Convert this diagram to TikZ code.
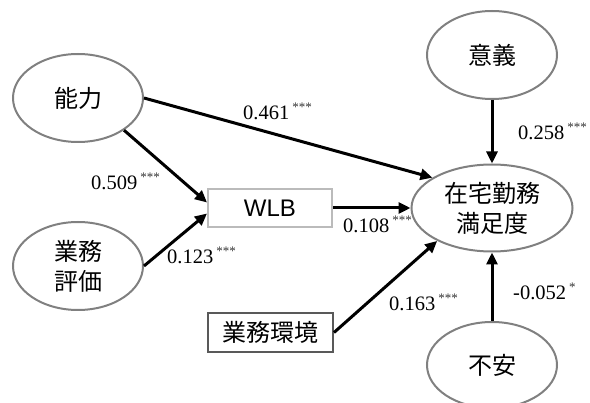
\documentclass[tikz,border=0pt]{standalone}
\usepackage{fontspec}
\setmainfont{Liberation Serif}
\newfontfamily\jpfont{Noto Sans CJK JP}
\newfontfamily\arialfont{Liberation Sans}
\usetikzlibrary{shapes.geometric,arrows.meta}
\definecolor{ellgray}{HTML}{808080}
\definecolor{lightbox}{HTML}{BBBBBB}
\definecolor{darkbox}{HTML}{595959}
\definecolor{stargray}{HTML}{333333}
\newcommand{\coefval}[2]{#1\hspace{3pt}\raisebox{8pt}{\fontsize{13}{13}\selectfont\color{stargray}#2}}
\begin{document}
\begin{tikzpicture}[x=1pt,y=1pt,
  latent/.style={ellipse, draw=ellgray, line width=2pt, minimum width=130pt, minimum height=88pt,
    inner sep=0pt, align=center, font=\fontsize{24}{30}\selectfont\jpfont},
  obsbox/.style={rectangle, line width=2pt, minimum width=124pt, minimum height=38pt, inner sep=0pt},
  pathto/.style={line width=3pt, -{Triangle[length=12pt,width=11pt]}},
  coeflab/.style={anchor=base west, inner sep=0pt, font=\fontsize{20.5}{24}\selectfont}
]
\useasboundingbox (0,0) rectangle (590,-403);

\node[latent] (nouryoku) at (78,-98) {能力};
\node[latent] (hyoka) at (78,-266) {業務\\評価};
\node[latent] (igi) at (492,-55) {意義};
\node[latent, minimum width=161pt, minimum height=87pt] (zaitaku) at (492,-208) {在宅勤務\\満足度};
\node[latent, minimum height=86pt] (fuan) at (492,-365) {不安};
\node[obsbox, draw=lightbox, font=\fontsize{24}{28}\selectfont\arialfont] (wlb) at (270,-208) {WLB};
\node[obsbox, draw=darkbox, minimum width=125pt, minimum height=39pt, font=\fontsize{24}{28}\selectfont\jpfont] (kankyo) at (270.5,-332.5) {業務環境};

\draw[pathto] (nouryoku.east) -- (zaitaku.153);
\draw[pathto] (nouryoku.-35) -- (wlb.175);
\draw[pathto] (hyoka.east) -- (wlb.185);
\draw[pathto] (wlb.east) -- (zaitaku.west);
\draw[pathto] (kankyo.east) -- (zaitaku.211);
\draw[pathto] (igi.south) -- (zaitaku.north);
\draw[pathto] (fuan.north) -- (zaitaku.south);

\node[coeflab] (c1) at (243,-120) {\coefval{0.461}{***}};
\node[coeflab] (c2) at (91,-190) {\coefval{0.509}{***}};
\node[coeflab] (c3) at (167,-264) {\coefval{0.123}{***}};
\node[coeflab] (c4) at (343,-233) {\coefval{0.108}{***}};
\node[coeflab] (c5) at (389,-311) {\coefval{0.163}{***}};
\node[coeflab] (c6) at (518,-140) {\coefval{0.258}{***}};
\node[coeflab] (c7) at (513,-300) {\coefval{-0.052}{*}};
\end{tikzpicture}
\end{document}
